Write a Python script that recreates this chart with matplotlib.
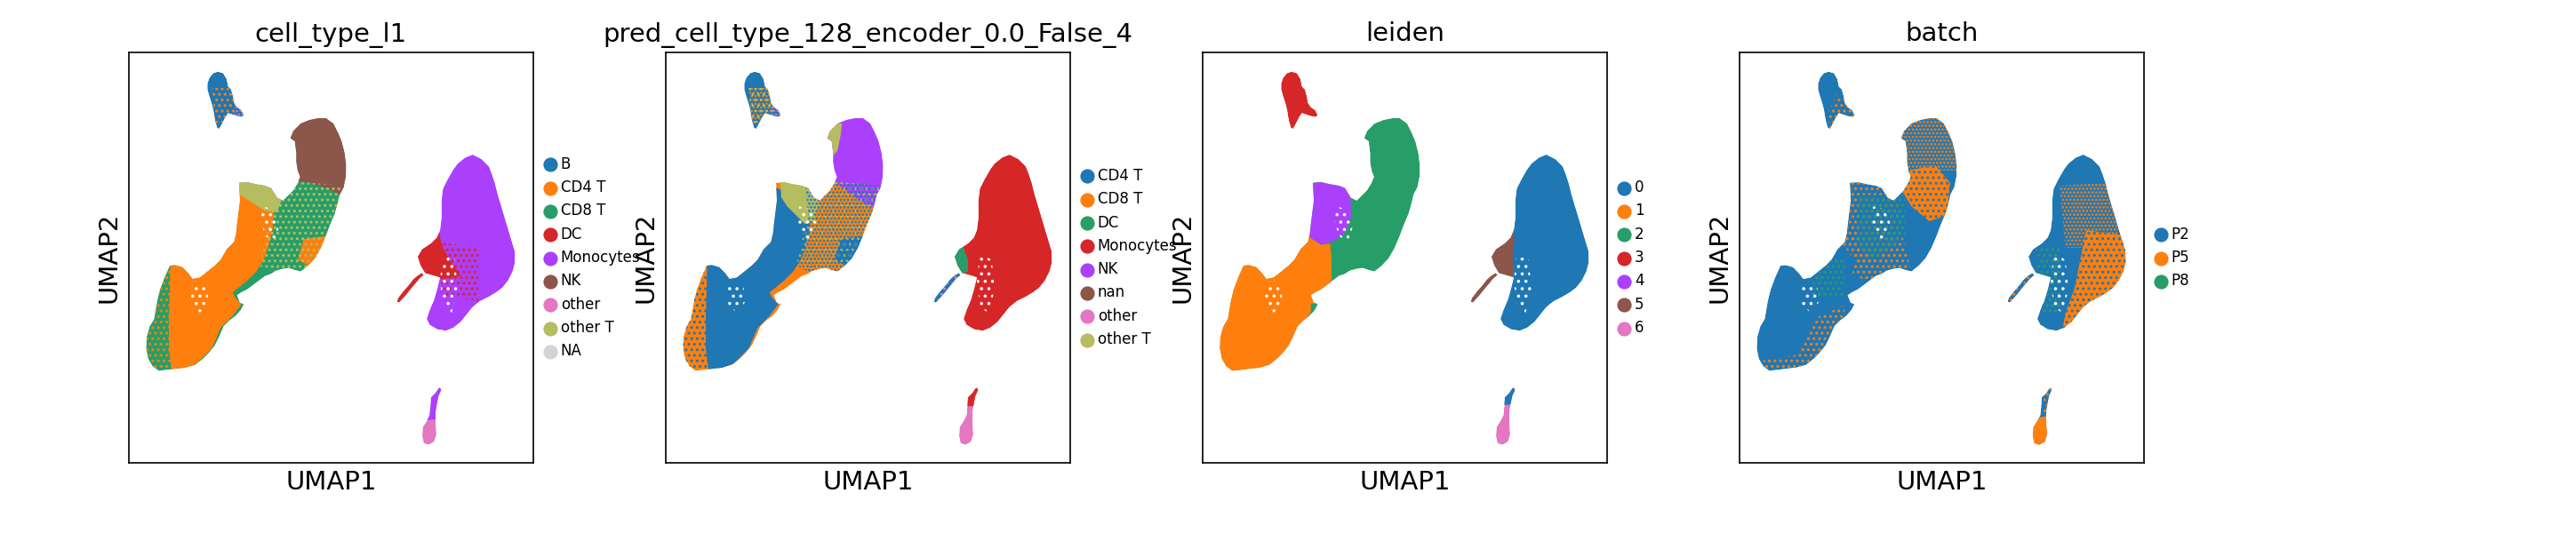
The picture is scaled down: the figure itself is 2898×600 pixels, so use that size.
import matplotlib
matplotlib.use("Agg")
import matplotlib.pyplot as plt
from matplotlib.path import Path
from matplotlib.patches import PathPatch, Polygon

plt.rcParams['font.family'] = ['DejaVu Sans']
plt.rcParams['hatch.linewidth'] = 0.9

# ---------------- embedding outlines (UMAP1, UMAP2) ----------------
island_b = [(30.0,-6.5),(31.8,-7.0),(33.0,-9.0),(33.5,-11.5),(34.5,-12.5),(35.2,-15.0),(35.5,-17.0),
            (36.5,-18.5),(38.0,-19.5),(38.8,-21.2),(38.2,-21.8),(36.5,-21.5),(35.0,-21.0),(33.5,-20.5),
            (32.5,-22.0),(31.5,-24.0),(30.5,-25.8),(29.8,-25.5),(29.2,-23.5),(28.8,-21.5),(28.5,-19.5),
            (28.0,-17.5),(27.2,-15.0),(26.5,-12.5),(26.5,-10.5),(27.2,-8.5),(28.5,-7.0)]
island_main = [(64.0,-22.2),(66.5,-22.2),(69.0,-24.0),(70.5,-27.0),(71.8,-30.0),(72.8,-34.0),(73.3,-38.0),
               (73.2,-42.0),(72.5,-45.5),(71.2,-48.0),(70.5,-51.0),(69.5,-54.5),(68.0,-58.0),(66.5,-62.0),
               (64.8,-66.0),(62.8,-69.5),(60.5,-72.0),(58.0,-74.0),(56.0,-73.5),(54.0,-72.8),(51.5,-73.2),
               (49.5,-73.8),(48.0,-74.8),(46.0,-75.5),(44.0,-77.0),(42.0,-78.5),(40.0,-80.0),(38.0,-81.0),
               (36.5,-82.0),(37.5,-84.5),(38.8,-85.0),(37.8,-87.0),(36.0,-89.0),(34.0,-90.5),(32.0,-92.5),
               (30.5,-96.0),(29.0,-99.0),(27.0,-101.5),(25.0,-103.5),(22.5,-105.5),(19.0,-106.5),
               (16.0,-106.8),(13.0,-107.2),(10.0,-107.5),(8.0,-106.0),(6.5,-103.5),(5.8,-100.0),(6.0,-96.0),
               (7.0,-92.5),(8.5,-90.0),(9.0,-87.0),(9.5,-84.0),(10.5,-80.0),(12.0,-76.0),(13.8,-72.0),
               (15.5,-71.8),(18.0,-72.5),(20.0,-74.5),(21.5,-76.5),(24.0,-76.0),(26.5,-74.0),(29.0,-72.0),
               (31.0,-70.0),(33.0,-66.5),(35.5,-64.0),(36.2,-61.0),(36.5,-58.0),(37.0,-54.0),(37.5,-50.0),
               (37.2,-44.0),(40.0,-43.8),(43.0,-44.5),(46.0,-45.0),(48.0,-45.8),(50.0,-49.0),(52.0,-50.0),
               (54.0,-48.0),(55.5,-46.5),(57.0,-44.0),(57.8,-42.0),(57.0,-40.0),(56.5,-37.0),(56.5,-34.0),
               (56.0,-30.0),(54.5,-29.0),(55.5,-26.5),(58.0,-24.0),(61.0,-22.8)]
island_mono = [(116.0,-34.5),(119.0,-36.0),(121.5,-38.5),(122.5,-41.0),(123.5,-44.0),(124.5,-48.0),
               (126.0,-53.0),(127.5,-58.0),(129.0,-63.0),(130.2,-67.0),(130.3,-71.0),(129.5,-74.0),
               (128.0,-77.0),(126.0,-79.5),(124.0,-81.0),(121.5,-82.5),(118.5,-84.0),(116.0,-86.0),
               (114.0,-88.5),(112.0,-91.0),(109.5,-93.0),(107.0,-94.0),(104.0,-93.5),(101.5,-92.0),
               (100.5,-90.0),(101.5,-87.0),(103.0,-83.5),(104.0,-80.0),(105.0,-76.0),(103.5,-75.5),
               (100.0,-74.5),(98.5,-72.0),(97.5,-69.0),(99.0,-66.5),(102.0,-64.5),(104.0,-62.5),
               (105.0,-60.0),(105.5,-56.0),(105.5,-50.0),(106.0,-46.0),(107.5,-43.0),(109.5,-39.5),
               (111.0,-37.5),(113.5,-35.5)]
island_stripe = [(90.5,-84.2),(91.2,-84.5),(93.5,-82.0),(95.5,-79.5),(96.8,-78.0),(98.0,-76.5),(99.5,-75.2),
                 (98.8,-74.5),(97.2,-75.5),(95.8,-76.8),(94.5,-78.5),(92.5,-80.8),(90.8,-83.0)]
island_bottom = [(105.0,-113.2),(105.4,-114.0),(104.5,-116.0),(104.0,-118.5),(103.5,-121.5),(103.5,-125.0),
                 (103.8,-129.0),(103.0,-131.5),(101.2,-132.5),(99.5,-132.0),(99.0,-129.5),(99.2,-126.5),
                 (100.5,-124.5),(101.5,-122.5),(101.8,-119.5),(102.0,-116.5),(103.5,-115.0),(104.5,-113.5)]
islands = [island_b, island_main, island_mono, island_stripe, island_bottom]

# ---------------- coloured sub-regions ----------------
reg_bottom_top_l1 = [(95,-110),(110,-110),(110,-123.5),(95,-124.5)]
reg_bottom_top_pred = [(95,-110),(110,-110),(110,-119),(95,-120)]
reg_bottom_top_leiden = [(95,-110),(110,-110),(110,-118.5),(95,-119.5)]
reg_cd4 = [(36,-45),(41,-47.5),(46,-50),(49,-54),(48.5,-60),(47,-66),(45.5,-70),(43,-74),(40,-77),(37,-79.5),
           (35,-81),(36,-83),(38,-85),(35,-89),(31,-93),(28,-100),(23,-105),(18,-107),(14.5,-108),(13.5,-100),
           (13.5,-90),(13.8,-80),(14,-71),(20,-72),(26,-72),(31,-68),(34,-62)]
reg_nk_l1 = [(50,-15),(80,-15),(80,-48.5),(71,-48),(66,-45.5),(61,-44),(57.5,-43.5),(50,-40)]
reg_nk_pred = [(50,-15),(80,-15),(80,-53),(69,-52),(64,-49),(60,-46),(57.5,-44),(50,-40)]
reg_nk_olive = [(53,-24),(59.5,-24),(59,-28),(58,-33),(56.5,-35),(53,-31)]
reg_othert_l1 = [(36,-42),(50,-42),(51.5,-50),(50,-54),(46,-53.5),(42,-51),(39,-49),(36.5,-47.5)]
reg_othert_pred = [(38.5,-42),(50,-42),(51.5,-51),(50,-57),(47,-58),(44,-55),(41,-52),(39,-49)]
reg_cd8_patch = [(59,-63),(66.5,-62),(65,-68),(60.5,-72),(57,-70)]
reg_dc_l1 = [(96,-63),(104.5,-60.5),(106,-66),(109,-71),(112,-75.5),(106,-76.5),(102,-76),(99,-75),(96,-70)]
reg_dc_pred = [(96,-66),(100.5,-66),(102,-70),(102,-74),(99,-75),(96,-71)]
reg_dc_leiden = [(96,-62),(104.8,-59),(105.2,-63),(104.6,-70),(105,-75.5),(103,-76.5),(99,-75),(96,-70)]
reg_cd8_speck = [(47,-43),(74,-45),(72,-72),(50,-75),(44,-72),(48,-55)]
reg_lobe_left = [(5,-70),(14,-70),(14.5,-108),(5,-108)]
reg_b_mix = [(28,-12),(35,-12),(37,-19),(33,-23.5),(29,-24)]
reg_b_tail = [(35.5,-18.5),(40,-18.5),(40,-23),(35.5,-23)]
reg_mono_speck = [(104,-64),(118,-66),(118,-84),(106,-82)]
reg_leiden_purple = [(36,-42),(49,-43),(50,-50),(50,-56),(48,-61),(44.5,-63.5),(40,-65),(35.5,-62)]
reg_leiden_orange = [(30,-58),(35.5,-62),(40,-65),(43,-64.5),(43.5,-70),(43.5,-78),(35,-90),(20,-115),
                     (0,-115),(0,-65),(20,-62)]
reg_leiden_green_spot = [(36.5,-85),(39,-84.5),(38,-88),(36.5,-88.5)]
reg_p5_nk_top = [(54,-22),(74,-22),(74,-40),(55,-40)]
reg_p5_nk_dense = [(57,-40),(66,-38),(71,-44),(70,-55),(64,-57),(58,-52),(55,-47)]
reg_p5_notch = [(36,-43),(50,-43),(54,-50),(55,-60),(48,-70),(40,-72),(35,-65)]
reg_p5_diag = [(40,-64),(55,-62),(58,-74),(45,-78),(38,-75)]
reg_p5_lobe_edge = [(25,-90),(36,-85),(32,-100),(22,-108),(8,-108),(8,-104),(20,-102)]
reg_p8_mid = [(40,-48),(56,-48),(56,-62),(46,-70),(40,-66)]
reg_p8_mid2 = [(25,-70),(36,-70),(35,-82),(24,-82)]
reg_p5_mono_mid = [(108,-45),(124,-44),(128,-60),(125,-66),(110,-66)]
reg_p5_mono_solid = [(117,-60),(131,-62),(131,-76),(126,-80),(118,-85),(112,-92),(109,-93.5),(110,-88),
                     (113,-80),(115,-70)]
reg_p8_mono = [(100,-66),(108,-66),(108,-88),(102,-88)]
reg_bottom_p5 = [(95,-124),(110,-122),(110,-136),(95,-136)]
reg_p5_bottom_top = [(102.5,-113),(106,-113),(106,-124),(102.5,-124)]
reg_p5_b = [(33,-14),(39,-18),(39,-23),(30,-26),(30,-20)]
reg_hole_mid = [(45,-52),(49,-53),(51,-58),(49,-64),(46,-62),(44.5,-57)]
reg_hole_lobe = [(21,-78),(26,-78),(27,-84),(24,-88),(21,-85)]
reg_hole_mono = [(106,-68),(110,-70),(111,-80),(109,-88),(106,-86),(105,-77)]

# ---------------- categories / palettes ----------------
titles = ["cell_type_l1", "pred_cell_type_128_encoder_0.0_False_4", "leiden", "batch"]
cats_l1 = ["B", "CD4 T", "CD8 T", "DC", "Monocytes", "NK", "other", "other T", "NA"]
cols_l1 = ["#1f77b4", "#ff7f0e", "#279e68", "#d62728", "#aa40fc", "#8c564b", "#e377c2", "#b5bd61", "lightgray"]
cats_pred = ["CD4 T", "CD8 T", "DC", "Monocytes", "NK", "nan", "other", "other T"]
cols_pred = ["#1f77b4", "#ff7f0e", "#279e68", "#d62728", "#aa40fc", "#8c564b", "#e377c2", "#b5bd61"]
cats_leiden = ["0", "1", "2", "3", "4", "5", "6"]
cols_leiden = ["#1f77b4", "#ff7f0e", "#279e68", "#d62728", "#aa40fc", "#8c564b", "#e377c2"]
cats_batch = ["P2", "P5", "P8"]
cols_batch = ["#1f77b4", "#ff7f0e", "#279e68"]

holes = [("holes", reg_hole_mid, None), ("holes", reg_hole_lobe, None), ("holes", reg_hole_mono, None)]

layers_l1 = [
    ("fill", island_main, "CD8 T"), ("fill", island_b, "B"), ("fill", island_mono, "Monocytes"),
    ("fill", island_stripe, "DC"), ("fill", island_bottom, "other"), ("fill", reg_bottom_top_l1, "Monocytes"),
    ("fill", reg_cd4, "CD4 T"), ("fill", reg_cd8_patch, "CD4 T"), ("fill", reg_nk_l1, "NK"),
    ("fill", reg_othert_l1, "other T"), ("fill", reg_dc_l1, "DC"),
    ("speck", reg_cd8_speck, "other T"), ("speck", reg_lobe_left, "CD4 T"), ("speck", reg_b_mix, "CD4 T"),
    ("dense", reg_b_tail, "other"), ("speck", reg_mono_speck, "DC"),
] + holes
layers_pred = [
    ("fill", island_main, "CD8 T"), ("fill", island_b, "CD4 T"), ("fill", island_mono, "Monocytes"),
    ("fill", island_stripe, "CD4 T"), ("fill", island_bottom, "other"), ("fill", reg_bottom_top_pred, "Monocytes"),
    ("fill", reg_cd4, "CD4 T"), ("fill", reg_cd8_patch, "CD4 T"), ("fill", reg_nk_pred, "NK"),
    ("fill", reg_nk_olive, "other T"), ("fill", reg_othert_pred, "other T"), ("fill", reg_dc_pred, "DC"),
    ("speck", reg_cd8_speck, "other T"), ("dense", reg_cd8_speck, "CD4 T"), ("speck", reg_lobe_left, "CD4 T"),
    ("dense", reg_b_mix, "CD8 T"), ("speck", reg_b_mix, "other T"), ("dense", reg_b_tail, "other"),
    ("speck", island_stripe, "other"),
] + holes
layers_leiden = [
    ("fill", island_main, "2"), ("fill", island_b, "3"), ("fill", island_mono, "0"),
    ("fill", island_stripe, "5"), ("fill", island_bottom, "6"), ("fill", reg_bottom_top_leiden, "0"),
    ("fill", reg_leiden_orange, "1"), ("fill", reg_leiden_purple, "4"), ("fill", reg_leiden_green_spot, "2"),
    ("fill", reg_dc_leiden, "5"),
] + holes
layers_batch = [
    ("fill", island_main, "P2"), ("fill", island_b, "P2"), ("fill", island_mono, "P2"),
    ("fill", island_stripe, "P2"), ("fill", island_bottom, "P2"),
    ("dense", reg_p5_nk_top, "P5"), ("fill", reg_p5_nk_dense, "P5"), ("speck", reg_p5_nk_dense, "P2"),
    ("speck", reg_p5_notch, "P5"), ("speck", reg_p5_diag, "P5"), ("speck", reg_p5_lobe_edge, "P5"),
    ("speck", reg_p8_mid, "P8"), ("speck", reg_p8_mid2, "P8"),
    ("dense", reg_p5_mono_mid, "P5"), ("fill", reg_p5_mono_solid, "P5"), ("speck", reg_p5_mono_solid, "P2"),
    ("speck", reg_p8_mono, "P8"), ("fill", reg_bottom_p5, "P5"), ("speck", reg_p5_bottom_top, "P5"),
    ("speck", reg_p5_b, "P5"), ("speck", island_stripe, "P5"),
] + holes

panels = [(layers_l1, cats_l1, cols_l1), (layers_pred, cats_pred, cols_pred),
          (layers_leiden, cats_leiden, cols_leiden), (layers_batch, cats_batch, cols_batch)]

HATCH = {"speck": "....", "dense": "......", "holes": "..."}

fig = plt.figure(figsize=(19.32, 4.0), dpi=150)
ax_left = [145, 749, 1353, 1957]
W, H = 2898.0, 600.0

clip_path = Path.make_compound_path(*[Path(p + [p[0]], closed=True) for p in islands])

for i, (layers, cats, cols) in enumerate(panels):
    ax = fig.add_axes([ax_left[i] / W, (H - 521) / H, 455 / W, 462 / H])
    colour = dict(zip(cats, cols))
    clip = PathPatch(clip_path, transform=ax.transData, facecolor='none', edgecolor='none')
    for kind, poly, cat in layers:
        if kind == "fill":
            patch = Polygon(poly, closed=True, facecolor=colour[cat], edgecolor='none', lw=0)
        else:
            ec = "white" if kind == "holes" else colour[cat]
            patch = Polygon(poly, closed=True, facecolor='none', edgecolor=ec, hatch=HATCH[kind], lw=0)
        ax.add_patch(patch)
        patch.set_clip_path(clip)
    ax.set_xlim(0, 136.5)
    ax.set_ylim(-138.6, 0)
    ax.set_xticks([])
    ax.set_yticks([])
    ax.set_xlabel("UMAP1", fontsize=14)
    ax.set_ylabel("UMAP2", fontsize=14)
    ax.set_title(titles[i], fontsize=14)
    for c, col in zip(cats, cols):
        ax.scatter([], [], c=col, s=46, label=c)
    ax.legend(frameon=False, loc="center left", bbox_to_anchor=(1, 0.5), fontsize=8,
              borderaxespad=0.35, handlelength=0.8, handletextpad=0.3)

fig.savefig("out.png", dpi=150)
